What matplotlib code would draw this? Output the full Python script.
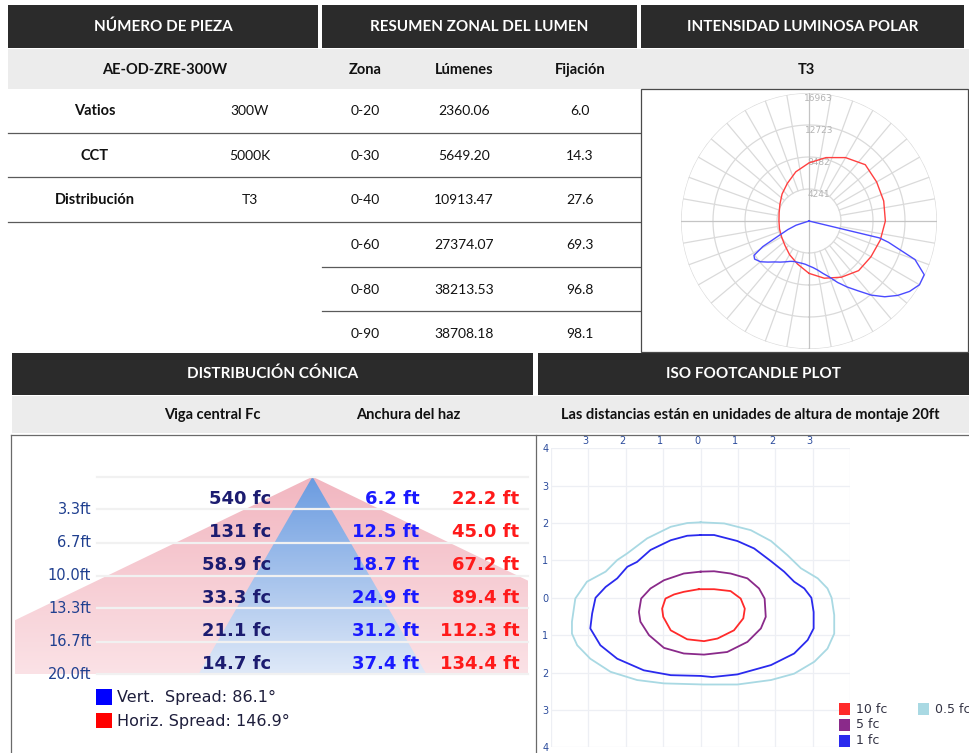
import numpy as np
import matplotlib
matplotlib.use("Agg")
import matplotlib.pyplot as plt
from matplotlib.patches import Rectangle, Polygon
from matplotlib.colors import LinearSegmentedColormap
from matplotlib.transforms import ScaledTranslation

plt.rcParams["font.family"] = ["Lato", "DejaVu Sans"]

W, H = 969, 753

# part number block
part_number = "AE-OD-ZRE-300W"
spec_labels = ["Vatios", "CCT", "Distribución"]
spec_values = ["300W", "5000K", "T3"]

# zonal lumen summary
zones = ["0-20", "0-30", "0-40", "0-60", "0-80", "0-90"]
lumens = [2360.06, 5649.20, 10913.47, 27374.07, 38213.53, 38708.18]
fixture_pct = [6.0, 14.3, 27.6, 69.3, 96.8, 98.1]

# polar candela (angle from nadir, degrees)
polar_rings = [4241, 8482, 12723, 16963]
red_angles = list(range(0, 360, 15))
red_cd = [6940, 7850, 8600, 9300, 9480, 9780, 10120, 10250, 10350, 10550, 9700, 8700,
          7700, 6750, 5750, 5050, 4450, 4100, 3980, 4050, 4200, 4530, 5150, 5900]
blue_angles = [-76, -72, -68, -64, -61, -58, -55, -50, -45, -40, -35, -30, -25, -20,
               -15, -10, -5, 0, 5, 10, 15, 20, 25, 30, 35, 40, 45, 50, 55, 60, 65,
               70, 75, 76.5, 76.5]
blue_cd = [0, 1800, 3000, 4500, 7000, 8600, 8800, 8400, 7700, 7080, 6650, 6250, 5900,
           5710, 5680, 5680, 5750, 5950, 6200, 6600, 7200, 7900, 8990, 10100, 11280,
           12820, 14200, 15340, 16270, 16900, 16850, 14950, 10900, 9600, 0]

# conical distribution
cone_heights = [3.3, 6.7, 10.0, 13.3, 16.7, 20.0]
center_fc = [540, 131, 58.9, 33.3, 21.1, 14.7]
vert_width = [6.2, 12.5, 18.7, 24.9, 31.2, 37.4]
horiz_width = [22.2, 45.0, 67.2, 89.4, 112.3, 134.4]
vert_spread = 86.1
horiz_spread = 146.9

# iso footcandle contours (mounting heights)
iso_levels = ["10 fc", "5 fc", "1 fc", "0.5 fc"]
iso_colors = ["#ff2a2a", "#8a2a8a", "#2a2aee", "#a9d9e3"]
fc10_x = [-0.05, 0.36, 0.80, 1.07, 1.18, 1.14, 0.89, 0.45, 0.09, -0.36, -0.80, -1.00,
          -1.03, -0.94, -0.71, -0.45]
fc10_y = [0.23, 0.23, 0.18, -0.02, -0.29, -0.55, -0.87, -1.09, -1.16, -1.11, -0.87,
          -0.51, -0.29, -0.02, 0.09, 0.16]
fc5_x = [0.00, 0.36, 0.80, 1.25, 1.56, 1.71, 1.74, 1.61, 1.25, 0.71, 0.09, -0.45, -0.98,
         -1.38, -1.61, -1.65, -1.59, -1.34, -0.98, -0.45]
fc5_y = [0.70, 0.71, 0.65, 0.52, 0.25, -0.02, -0.51, -0.82, -1.18, -1.45, -1.52, -1.49,
         -1.34, -1.00, -0.64, -0.38, -0.02, 0.25, 0.47, 0.65]
fc1_x = [0.00, 0.36, 0.98, 1.43, 1.88, 2.23, 2.50, 2.77, 2.96, 3.02, 3.02, 2.86, 2.50,
         1.88, 0.98, 0.31, 0.00, -0.80, -1.52, -2.23, -2.68, -2.95, -2.90, -2.81, -2.54,
         -2.23, -1.96, -1.70, -1.34, -0.80, -0.36]
fc1_y = [1.68, 1.68, 1.52, 1.32, 0.98, 0.70, 0.43, 0.25, 0.00, -0.38, -0.82, -1.13,
         -1.49, -1.80, -2.05, -2.12, -2.09, -2.07, -1.94, -1.63, -1.27, -0.82, -0.42,
         0.00, 0.29, 0.52, 0.83, 0.96, 1.28, 1.54, 1.66]
fc05_x = [0.00, 0.63, 1.34, 1.88, 2.32, 2.68, 3.13, 3.39, 3.50, 3.57, 3.57, 3.39, 3.04,
          2.50, 1.88, 0.98, 0.09, -0.98, -1.70, -2.41, -2.95, -3.30, -3.44, -3.44, -3.35,
          -3.04, -2.54, -2.23, -1.96, -1.43, -0.80, -0.36]
fc05_y = [2.02, 1.99, 1.81, 1.52, 1.14, 0.79, 0.52, 0.25, 0.00, -0.46, -0.96, -1.36,
          -1.71, -2.03, -2.20, -2.32, -2.32, -2.29, -2.20, -1.98, -1.63, -1.27, -0.96,
          -0.64, -0.02, 0.43, 0.70, 1.01, 1.19, 1.59, 1.90, 2.00]

DARK = "#2b2b2b"
GRAY = "#ececec"
LINE = "#5a5a5a"


def rect(x0, y0, x1, y1):
    return [x0 / W, 1 - y1 / H, (x1 - x0) / W, (y1 - y0) / H]


fig = plt.figure(figsize=(W / 100, H / 100), dpi=100)
bg = fig.add_axes([0, 0, 1, 1])
bg.set_xlim(0, W)
bg.set_ylim(H, 0)
bg.axis("off")


def box(x0, y0, x1, y1, color):
    bg.add_patch(Rectangle((x0, y0), x1 - x0, y1 - y0, facecolor=color, edgecolor="none"))


def header(x0, x1, y0, y1, text):
    box(x0, y0, x1, y1, DARK)
    bg.text((x0 + x1) / 2, (y0 + y1) / 2, text, color="white", fontsize=11,
            fontweight="bold", ha="center", va="center")


# top headers
header(8, 318, 5, 48, "NÚMERO DE PIEZA")
header(322, 637, 5, 48, "RESUMEN ZONAL DEL LUMEN")
header(641, 964, 5, 48, "INTENSIDAD LUMINOSA POLAR")
box(8, 49, 969, 89, GRAY)
bold = dict(fontsize=10.5, fontweight="bold", ha="center", va="center", color="#111111")
norm = dict(fontsize=10, ha="center", va="center", color="#111111")
bg.text(165, 70, part_number, **bold)
bg.text(365, 70, "Zona", **bold)
bg.text(464, 70, "Lúmenes", **bold)
bg.text(580, 70, "Fijación", **bold)
bg.text(806, 70, "T3", **bold)

row_y = [111, 156, 200, 245, 290, 334]
for i, (lab, val) in enumerate(zip(spec_labels, spec_values)):
    bg.text(95, row_y[i], lab, **bold)
    bg.text(250, row_y[i], val, **norm)
for i, (z, lm, fx) in enumerate(zip(zones, lumens, fixture_pct)):
    bg.text(365, row_y[i], z, **norm)
    bg.text(464, row_y[i], f"{lm:.2f}", **norm)
    bg.text(580, row_y[i], f"{fx:.1f}", **norm)
for y in [133, 177, 222]:
    bg.plot([8, 640], [y, y], color=LINE, lw=0.9)
for y in [267, 311]:
    bg.plot([322, 640], [y, y], color=LINE, lw=0.9)

# second headers
header(12, 533, 353, 395, "DISTRIBUCIÓN CÓNICA")
header(538, 969, 353, 395, "ISO FOOTCANDLE PLOT")
box(12, 396, 969, 433, GRAY)
bg.text(212, 415, "Viga central Fc", **bold)
bg.text(408, 415, "Anchura del haz", **bold)
bg.text(750, 415, "Las distancias están en unidades de altura de montaje 20ft", **bold)

# ---------- polar plot ----------
pax = fig.add_axes(rect(681, 93, 937, 349), projection="polar")
pax.set_theta_zero_location("S")
pax.set_theta_direction(1)
pax.set_rlim(0, polar_rings[-1])
pax.grid(False)
pax.set_xticks([])
pax.set_yticks([])
pax.spines["polar"].set_visible(False)
full = np.linspace(0, 2 * np.pi, 361)
for r in polar_rings:
    pax.plot(full, [r] * len(full), color="#dadada", lw=0.9, zorder=1)
for a in range(0, 360, 10):
    t = np.radians(a)
    if a % 90 == 0:
        pax.plot([t, t], [0, polar_rings[-1]], color="#c4c4c4", lw=0.9, zorder=1)
    else:
        pax.plot([t, t], [polar_rings[0], polar_rings[-1]], color="#dadada", lw=0.9, zorder=1)
for r in polar_rings:
    pax.annotate(str(r), xy=(np.pi, r), xytext=(7, -1), textcoords="offset points",
                 ha="center", va="top", fontsize=6.5, color="#b4b4b4",
                 family="DejaVu Sans")
rt = np.radians(red_angles + [red_angles[0]])
pax.plot(rt, red_cd + [red_cd[0]], color="#ff4040", lw=1.0, zorder=3, clip_on=False)
pax.plot(np.radians(blue_angles), blue_cd, color="#4a4aff", lw=1.0, zorder=3, clip_on=False)

# ---------- conical distribution ----------
cax = fig.add_axes(rect(15, 476.7, 528.3, 674.3))
cax.set_xlim(-48.8, 35.4)
cax.set_ylim(cone_heights[-1], 0)
cax.axis("off")
cax.patch.set_alpha(0)
grad = np.linspace(0, 1, 256).reshape(-1, 1)
for half, top, bot in [(horiz_width[-1] / 2, "#f2b6c0", "#fbe2e6"),
                       (vert_width[-1] / 2, "#6a9be0", "#dfe9f8")]:
    cmap = LinearSegmentedColormap.from_list("g", [top, bot])
    im = cax.imshow(grad, extent=(-48.8, 35.4, cone_heights[-1], 0), cmap=cmap,
                    aspect="auto", zorder=1)
    tri = Polygon([(0, 0), (-half, cone_heights[-1]), (half, cone_heights[-1])],
                  closed=True, facecolor="none", edgecolor="none")
    cax.add_patch(tri)
    im.set_clip_path(tri)
cax.set_xlim(-48.8, 35.4)
cax.set_ylim(cone_heights[-1], 0)
for d in [0] + cone_heights:
    cax.plot([-35.4, 35.4], [d, d], color="#f1f1f1", lw=1.6, zorder=2, clip_on=False)
prev = 0
for d, fc, vw, hw in zip(cone_heights, center_fc, vert_width, horiz_width):
    yb = d - 0.55
    cax.text(-6.8, yb, f"{fc:g} fc", ha="right", va="baseline", fontsize=13,
             fontweight="bold", color="#1c1c70", family="DejaVu Sans", zorder=4)
    cax.text(17.55, yb, f"{vw:.1f} ft", ha="right", va="baseline", fontsize=13,
             fontweight="bold", color="#1a1aff", family="DejaVu Sans", zorder=4)
    cax.text(33.95, yb, f"{hw:.1f} ft", ha="right", va="baseline", fontsize=13,
             fontweight="bold", color="#ff1a1a", family="DejaVu Sans", zorder=4)
    cax.text(-36.3, d, f"{d:.1f}ft", ha="right", va="center", fontsize=10.5,
             color="#1f3f8f", family="DejaVu Sans", zorder=4)

# ---------- iso footcandle ----------
iax = fig.add_axes(rect(551, 448.3, 850.3, 747.3))
iax.set_xlim(-4, 4)
iax.set_ylim(-4, 4)
iax.patch.set_alpha(0)
for s in iax.spines.values():
    s.set_visible(False)
for v in range(-4, 5):
    iax.axvline(v, color="#edeff4", lw=0.9, zorder=0)
    iax.axhline(v, color="#edeff4", lw=0.9, zorder=0)
iax.xaxis.tick_top()
iax.set_xticks(range(-3, 4), [str(abs(v)) for v in range(-3, 4)])
iax.set_yticks(range(-4, 5), [str(abs(v)) for v in range(-4, 5)])
iax.tick_params(length=0, labelsize=7, labelcolor="#2c4c9c", pad=2)
for lbl in iax.get_xticklabels():
    lbl.set_family("DejaVu Sans")
    lbl.set_transform(lbl.get_transform() + ScaledTranslation(-0.035, 0, fig.dpi_scale_trans))
for lbl in iax.get_yticklabels():
    lbl.set_family("DejaVu Sans")
for xs, ys, c in [(fc05_x, fc05_y, iso_colors[3]), (fc1_x, fc1_y, iso_colors[2]),
                  (fc5_x, fc5_y, iso_colors[1]), (fc10_x, fc10_y, iso_colors[0])]:
    iax.plot(xs + [xs[0]], ys + [ys[0]], color=c, lw=1.3, zorder=3)

# ---------- overlay: borders and legends ----------
fg = fig.add_axes([0, 0, 1, 1])
fg.set_xlim(0, W)
fg.set_ylim(H, 0)
fg.axis("off")
fg.patch.set_alpha(0)
fg.add_patch(Rectangle((641, 89), 327, 262.5, facecolor="none", edgecolor="#4a4a4a", lw=0.9))
fg.plot([11, 969], [434.5, 434.5], color="#6a6a6a", lw=0.9)
fg.plot([11, 11], [434.5, 753], color="#6a6a6a", lw=0.9)
fg.plot([536, 536], [434.5, 753], color="#6a6a6a", lw=0.9)

clip = Rectangle((11, 435), 525, 293, transform=fg.transData)
for y0, col, txt in [(689, "#0000ff", f"Vert.  Spread: {vert_spread:.1f}°"),
                     (712.7, "#ff0000", f"Horiz. Spread: {horiz_spread:.1f}°")]:
    sq = Rectangle((96, y0), 15.7, 15.7, facecolor=col, edgecolor="none")
    fg.add_patch(sq)
    sq.set_clip_path(clip)
    t = fg.text(116.7, y0 + 8.5, txt, ha="left", va="center", fontsize=11.5,
                color="#1e1e3c", family="DejaVu Sans")
    t.set_clip_path(clip)

iso_pos = [(839, 703.3), (839, 719), (839, 735), (918, 703.3)]
for (x0, y0), lab, col in zip(iso_pos, iso_levels, iso_colors):
    fg.add_patch(Rectangle((x0, y0), 11.3, 11.7, facecolor=col, edgecolor="none"))
    fg.text(x0 + 17, y0 + 6, lab, ha="left", va="center", fontsize=9,
            color="#333344", family="DejaVu Sans")

fig.savefig("out.png", dpi=100)
